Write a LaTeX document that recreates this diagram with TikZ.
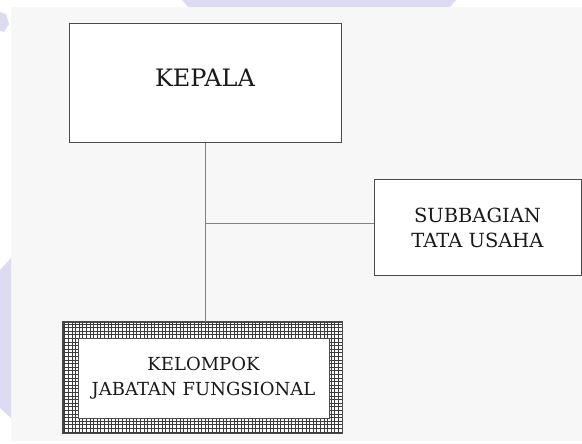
\documentclass[tikz,border=0pt]{standalone}
\usepackage{fontspec}
\setmainfont{DejaVu Serif}
\usetikzlibrary{positioning,calc}
\definecolor{page}{HTML}{F7F7F7}
\definecolor{wmark}{HTML}{DCDBF2}
\definecolor{ink}{HTML}{1A1A1A}
\definecolor{rim}{HTML}{4A4A4A}
\definecolor{wire}{HTML}{808080}
\definecolor{mesh}{HTML}{3C3C3C}
\tikzset{
  unit/.style={draw=rim, fill=white, line width=1pt, inner sep=0pt,
               align=center, text=ink},
  link/.style={draw=wire, line width=0.8pt},
  hatch/.style={draw=mesh, line width=0.95pt}
}

\begin{document}
\begin{tikzpicture}[x=1pt,y=-1pt]
  \useasboundingbox (0,0) rectangle (582,444);
  \fill[page] (11,7) rectangle (582,441);
  % watermark bits at the margins
  \fill[wmark] (182,0) -- (456,0) -- (450,7) -- (188,7) -- cycle;
  \fill[wmark] (0,12) -- (6,14) -- (9,24) -- (4,32) -- (0,31) -- cycle;
  \fill[wmark] (0,270) -- (11,258) -- (11,418) -- (0,408) -- cycle;

  \node[unit, minimum width=272pt, minimum height=119pt,
        font=\fontsize{24}{28}\selectfont, text height=17pt, text depth=10pt]
        (kepala) at (205,83.5) {KEPALA};
  \node[unit, minimum width=207pt, minimum height=95pt,
        font=\fontsize{19.5}{25}\selectfont]
        (subbag) at (477.5,227.5) {SUBBAGIAN\\TATA USAHA};

  \node[unit, minimum width=279pt, minimum height=111pt] (kjf) at (202.5,377.5) {};
  \begin{scope}
    \clip (kjf.south west) rectangle (kjf.north east);
    \draw[hatch] (kjf.south west) grid[step=3.6pt] (kjf.north east);
  \end{scope}
  \draw[rim, line width=1.2pt] (kjf.south west) rectangle (kjf.north east);
  \node[unit, minimum width=251pt, minimum height=80pt,
        font=\fontsize{18}{25}\selectfont]
        (kjfin) at (203.5,378) {KELOMPOK\\JABATAN FUNGSIONAL};

  \coordinate (branch) at (205,223);
  \draw[link] (kepala.south) -- (kepala.south |- kjf.north);
  \draw[link] (branch) -- (branch -| subbag.west);
\end{tikzpicture}
\end{document}
